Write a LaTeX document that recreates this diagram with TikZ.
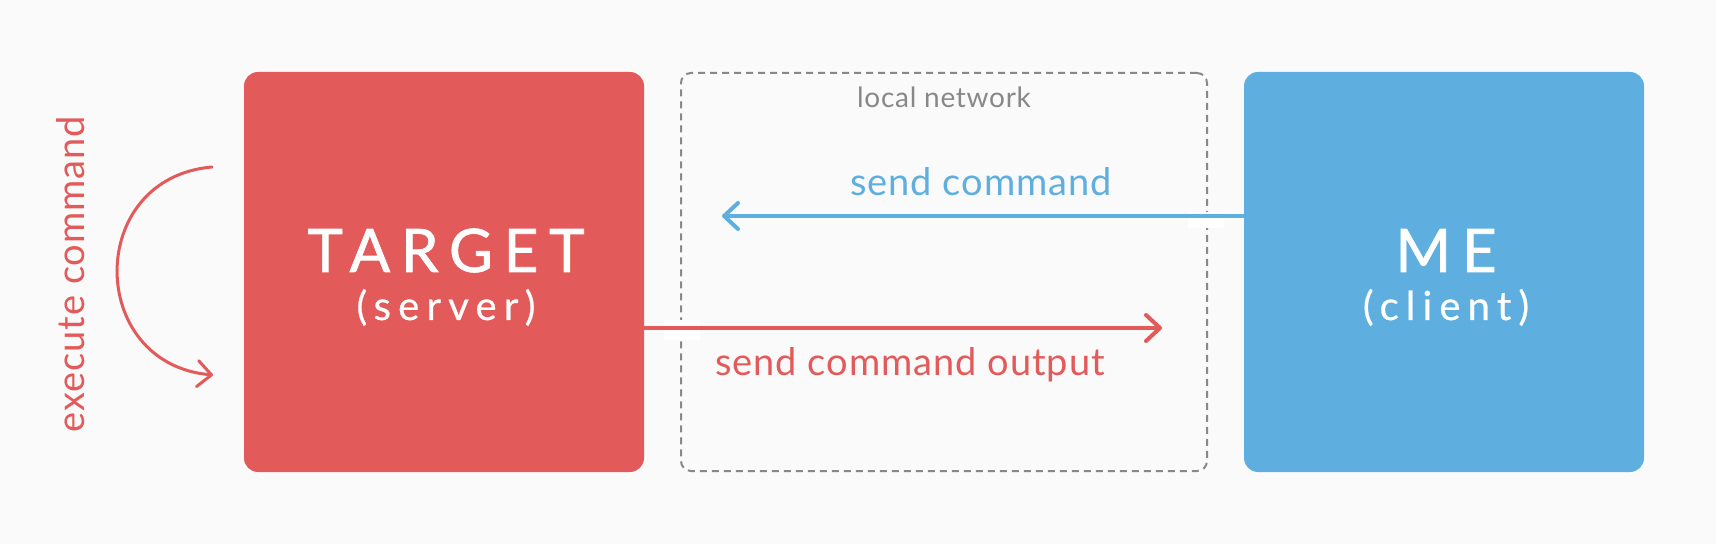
\documentclass[tikz,border=0pt]{standalone}
\usepackage{fontspec}
\setmainfont{Lato}
\newfontfamily\spacedfont[LetterSpace=18,FakeBold=1.2]{Lato}
\newfontfamily\subfont[LetterSpace=18,FakeBold=0.6]{Lato}
\newfontfamily\labelfont[LetterSpace=2.5]{Lato}
\usetikzlibrary{arrows.meta}
\definecolor{tred}{HTML}{E35A5B}
\definecolor{mblue}{HTML}{5EAFE0}
\definecolor{bgc}{HTML}{FAFAFA}
\definecolor{lgray}{HTML}{888888}
\begin{document}
\begin{tikzpicture}[x=0.5pt,y=-0.5pt,
  box/.style={rectangle, rounded corners=7pt, minimum width=200pt, minimum height=200pt, inner sep=0pt},
  lan/.style={rectangle, draw=lgray, line width=1pt, dash pattern=on 3.5pt off 2.5pt, rounded corners=5pt, minimum width=263pt, minimum height=199pt, inner sep=0pt},
  mask/.style={rectangle, fill=white, inner sep=0pt, minimum width=18pt},
  lbl/.style={anchor=base, inner sep=0pt, font=\labelfont\fontsize{19pt}{23pt}\selectfont},
  title/.style={anchor=base, inner sep=0pt, text=white, font=\spacedfont\fontsize{30pt}{36pt}\selectfont},
  sub/.style={anchor=base, inner sep=0pt, text=white, font=\subfont\fontsize{20pt}{24pt}\selectfont},
  flow/.style={line width=2pt, line cap=round, -{Straight Barb[length=7pt, width=13pt, round]}}
]
\fill[bgc] (0,0) rectangle (1716,544);
\useasboundingbox (0,0) rectangle (1716,544);
% local network frame
\node[lan] (lan) at (944,272) {};
\node[anchor=base, inner sep=0pt, text=lgray, font=\labelfont\fontsize{14pt}{17pt}\selectfont] (lanlabel) at (944,108) {local network};
\node[mask, minimum height=10pt] (mask1) at (682,330) {};
\node[mask, minimum height=8pt] (mask2) at (1206,220) {};
% boxes
\node[box, fill=tred] (target) at (444,272) {};
\node[box, fill=mblue] (me) at (1444,272) {};
\node[title] (targettitle) at (446,272) {TARGET};
\node[sub] (targetsub) at (446,320) {(server)};
\node[title] (metitle) at (1446,272) {ME};
\node[sub] (mesub) at (1446,320) {(client)};
% connectors
\coordinate (sctip) at (722,216);
\coordinate (ortip) at (1162,328);
\draw[flow, draw=mblue] (me.west |- sctip) -- (sctip);
\draw[flow, draw=tred] (target.east |- ortip) -- (ortip);
\node[lbl, text=mblue] (sclabel) at (981,196) {send command};
\node[lbl, text=tred] (orlabel) at (910,376) {send command output};
% execute loop
\coordinate (ectop) at (212,167);
\coordinate (ecbot) at (213,375);
\draw[draw=tred, line width=1.5pt, line cap=round, -{Straight Barb[length=7pt, width=13pt, round]}]
  (ectop) .. controls (85,178) and (86.5,364) .. (ecbot);
\node[lbl, text=tred, rotate=90] (eclabel) at (84,274) {execute command};
\end{tikzpicture}
\end{document}
